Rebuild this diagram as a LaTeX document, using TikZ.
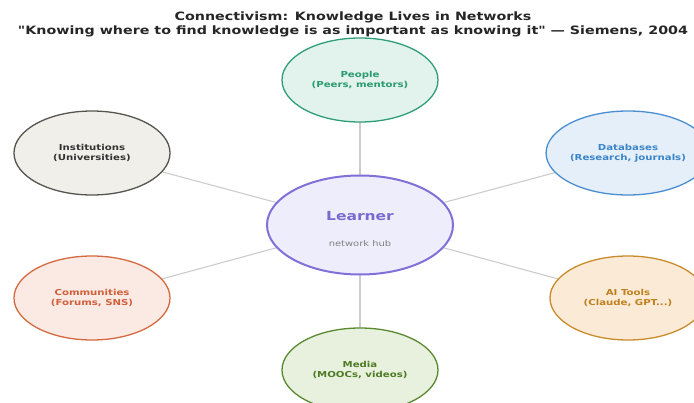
\documentclass[tikz,border=0pt]{standalone}
\usepackage{fontspec}
\setmainfont{DejaVu Sans}[FakeStretch=1.24, Ligatures=TeXOff]
\usetikzlibrary{shapes.geometric,backgrounds}
\definecolor{linkgray}{HTML}{CCCCCC}
\definecolor{pplfill}{HTML}{E1F3EC}\definecolor{pplline}{HTML}{2E9E7A}\definecolor{ppltext}{HTML}{2A9A70}
\definecolor{insfill}{HTML}{F1EFE9}\definecolor{insline}{HTML}{55554F}\definecolor{instext}{HTML}{333333}
\definecolor{dbfill}{HTML}{E4EFFA}\definecolor{dbline}{HTML}{4A8ED0}\definecolor{dbtext}{HTML}{3A84C8}
\definecolor{comfill}{HTML}{FBEAE3}\definecolor{comline}{HTML}{D56A40}\definecolor{comtext}{HTML}{D0603A}
\definecolor{aifill}{HTML}{FBEBD6}\definecolor{ailine}{HTML}{C98B2B}\definecolor{aitext}{HTML}{C08020}
\definecolor{medfill}{HTML}{E7F1DD}\definecolor{medline}{HTML}{5A8A30}\definecolor{medtext}{HTML}{4E7A25}
\definecolor{hubfill}{HTML}{EEEDFB}\definecolor{hubline}{HTML}{8070D8}\definecolor{hubtext}{HTML}{7A6AD0}
\tikzset{
  source/.style={ellipse, line width=1.3pt, minimum width=156pt, minimum height=84pt,
    inner sep=0pt, align=center, font=\fontsize{8.2}{9.8}\selectfont\bfseries},
  hub/.style={ellipse, line width=2pt, minimum width=186pt, minimum height=99pt,
    inner sep=0pt, align=center, draw=hubline, fill=hubfill},
  link/.style={draw=linkgray, line width=1.1pt},
  titletext/.style={font=\fontsize{11.5}{13.5}\selectfont\bfseries, align=center, text=black!85}
}
\begin{document}
\begin{tikzpicture}[x=1pt,y=-1pt]
\useasboundingbox (0,0) rectangle (694,403);
\clip (0,0) rectangle (694,403);

% title
\node[titletext] (title) at (353,24.5) {Connectivism: Knowledge Lives in Networks\\"Knowing where to find knowledge is as important as knowing it" — Siemens, 2004};

% hub and surrounding sources
\node[hub] (hub) at (360,225) {};
\node[font=\fontsize{12.5}{14}\selectfont\bfseries, text=hubtext] (hubname) at (360,216) {Learner};
\node[font=\fontsize{8}{9}\selectfont, text=black!50] (hubsub) at (360,244) {network hub};

\node[source, fill=pplfill, draw=pplline, text=ppltext] (people) at (360,80) {People\\(Peers, mentors)};
\node[source, fill=insfill, draw=insline, text=instext] (inst) at (92,153) {Institutions\\(Universities)};
\node[source, fill=dbfill, draw=dbline, text=dbtext] (db) at (628,153) {Databases\\(Research, journals)};
\node[source, fill=comfill, draw=comline, text=comtext] (comm) at (92,298) {Communities\\(Forums, SNS)};
\node[source, fill=aifill, draw=ailine, text=aitext] (ai) at (628,298) {AI Tools\\(Claude, GPT...)};
\node[source, fill=medfill, draw=medline, text=medtext] (media) at (360,370) {Media\\(MOOCs, videos)};

% links from the hub, kept behind the ellipses
\begin{scope}[on background layer]
\fill[white] (0,0) rectangle (694,403);
\foreach \n in {people,inst,db,comm,ai,media}{
  \path[link] (hub.center) -- (\n.center);
}
\end{scope}
\end{tikzpicture}
\end{document}
